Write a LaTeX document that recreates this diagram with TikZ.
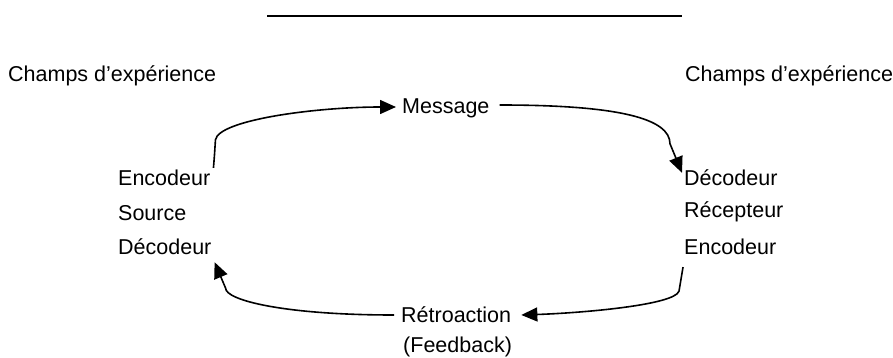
\documentclass[tikz,border=0pt]{standalone}
\usepackage{fontspec}
\setmainfont{Liberation Sans}
\usetikzlibrary{arrows.meta,calc}
\begin{document}
\begin{tikzpicture}[x=1pt,y=-1pt,
  lbl/.style={inner sep=0pt,anchor=west,font=\fontsize{21.5}{25}\selectfont},
  conn/.style={line width=1.6pt,-{Triangle[length=16pt,width=14pt]}},
  plain/.style={line width=1.6pt}]
\useasboundingbox (0,0) rectangle (893,358);
\draw[line width=1.8pt] (267,16) coordinate (t1) -- (682,16) coordinate (t2);
\node[lbl] (champL) at (8,76) {Champs d’expérience};
\node[lbl] (champR) at (685,76) {Champs d’expérience};
\node[lbl] (msg) at (402,108) {Message};
\node[lbl] (encL) at (118,178) {Encodeur};
\node[lbl] (srcL) at (118,213) {Source};
\node[lbl] (decL) at (118,247) {Décodeur};
\node[lbl] (decR) at (684,178) {Décodeur};
\node[lbl] (recR) at (684,212) {Récepteur};
\node[lbl] (encR) at (684,247) {Encodeur};
\node[lbl] (retro) at (401,315) {Rétroaction};
\node[lbl] (feed) at (403,347) {(Feedback)};
% top left arrow
\draw[conn] ($(encL.north east)+(3,-2)$) .. controls +(1,-12) .. ($(encL.north east)+(5,-30)$)
  .. controls +(3,-20) and +(-80,0) .. ($(msg.west)+(-6,-1)$);
% top right arrow
\draw[conn] ($(msg.east)+(10,-3)$) .. controls +(120,0) and +(0,-25) .. ($(decR.north west)+(-14,-26)$)
  -- ($(decR.north west)+(-2,3)$);
% bottom right arrow
\draw[conn] ($(encR.south west)+(-1,12)$) -- ($(encR.south west)+(-5,36)$)
  .. controls +(-4,14) and +(60,-2) .. ($(retro.east)+(10,0)$);
% bottom left arrow
\draw[conn] ($(retro.west)+(-7,0)$) .. controls +(-110,0) and +(0,12) .. ($(decL.south east)+(14,33)$)
  -- ($(decL.south east)+(3,7)$);
\end{tikzpicture}
\end{document}
